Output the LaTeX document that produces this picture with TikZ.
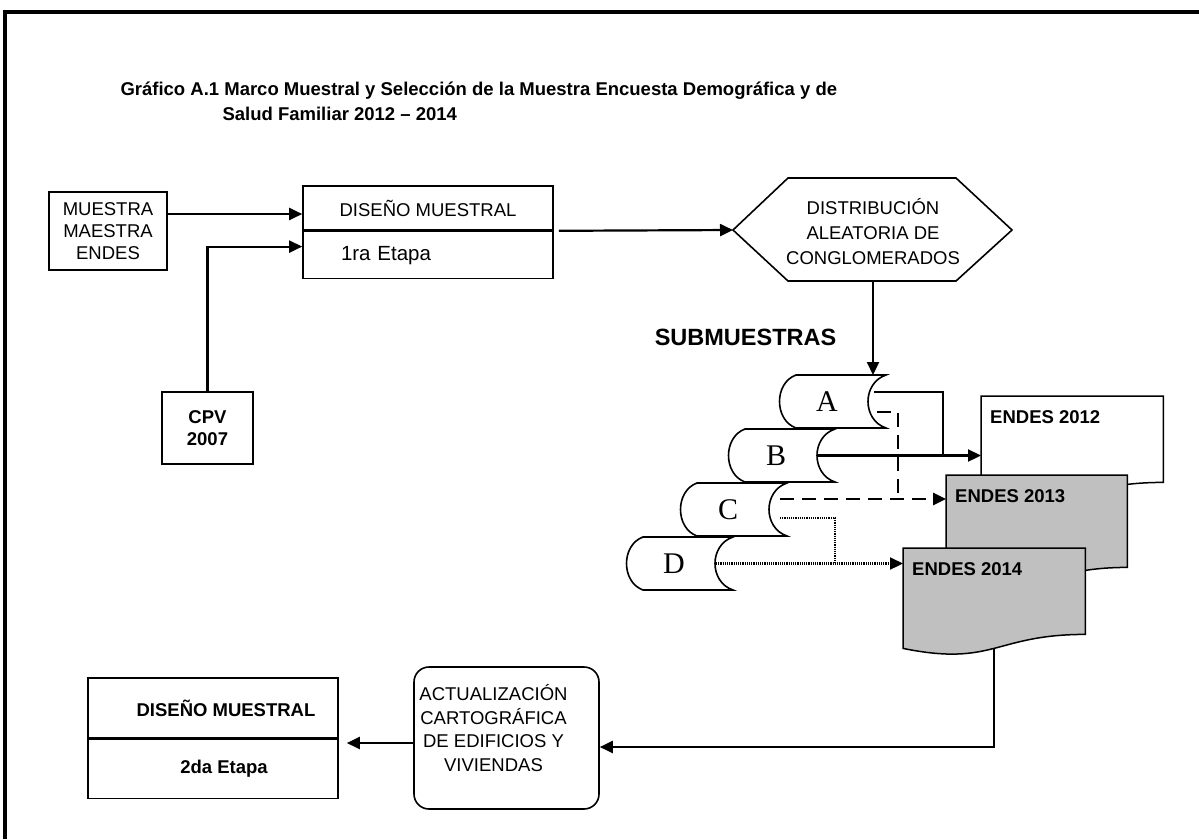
\documentclass[tikz,border=0pt]{standalone}
\usepackage{fontspec}
\setmainfont{Liberation Sans}
\newfontfamily\lettersfont{Liberation Serif}
\usetikzlibrary{arrows.meta,positioning,calc}
\definecolor{docgray}{RGB}{192,192,192}
\newcommand{\boxfont}{\fontsize{18.5}{22}\selectfont}
\newcommand{\titfont}{\fontsize{18.5}{23}\selectfont\bfseries}
\newcommand{\subfont}{\fontsize{23.5}{26}\selectfont\bfseries}
\newcommand{\scrfont}{\lettersfont\fontsize{30}{30}\selectfont}
\newcommand{\hexfont}{\fontsize{18.5}{25}\selectfont}
\newcommand{\actfont}{\fontsize{18.5}{23.7}\selectfont}
% scroll outline around the letter node #1
\newcommand{\scrollshape}[1]{%
  \draw[scrl] ($(#1)+(-31,-26.5)$) -- ($(#1)+(59,-26.5)$)
    .. controls +(-24,8) and +(-24,-8) .. ($(#1)+(59,26.5)$)
    -- ($(#1)+(-31,26.5)$)
    .. controls +(-22,-8) and +(-22,8) .. ($(#1)+(-31,-26.5)$) -- cycle;}

\begin{document}
\begin{tikzpicture}[x=1pt,y=-1pt,
  font=\boxfont,
  box/.style={draw,line width=1.6pt,inner sep=0pt,align=center},
  conn/.style={line width=2.2pt},
  arr/.style={conn,-{Triangle[length=13pt,width=12pt]}},
  dashc/.style={line width=2.8pt,dash pattern=on 14pt off 8pt},
  dotc/.style={line width=2.2pt,dash pattern=on 1.1pt off 1.1pt},
  tip/.style={-{Triangle[length=13pt,width=12pt]}},
  scrl/.style={line width=1.6pt},
  doc/.style={line width=1.5pt},
  docarea/.style={inner sep=0pt,anchor=north west}]
\useasboundingbox (0,0) rectangle (1199,839);
% frame
\draw[line width=4.5pt] (1199,12) -- (5,12) -- (5,839);
% title
\node[anchor=base west,font=\titfont] (tit1) at (117,95)
  {Gráfico A.1 Marco Muestral y Selección de la Muestra Encuesta Demográfica y de};
\node[anchor=base west,font=\titfont] (tit2) at (219,120) {Salud Familiar 2012 – 2014};
% first stage
\node[box,minimum width=118pt,minimum height=78pt] (mm) at (108,231) {MUESTRA\\MAESTRA\\ENDES};
\node[box,minimum width=250pt,minimum height=44pt] (dm1) at (428,208) {DISEÑO MUESTRAL};
\node[box,below=0pt of dm1,text width=174pt,inner xsep=38pt,align=left,minimum height=47pt,
  font=\fontsize{20.5}{24}\selectfont] (et1) {1ra Etapa};
\node[box,minimum width=91pt,minimum height=72pt,font=\boxfont\bfseries] (cpv) at (207.5,428) {CPV\\2007};
\coordinate (in1) at ($(mm.east)+(0,-17)$);
\draw[arr] (in1) -- (in1 -| dm1.west);
\coordinate (in2) at ($(et1.west)+(0,-8.5)$);
\draw[arr] (cpv.north) |- (in2);
% hexagon
\node[align=center,font=\hexfont] (dist) at (873,232) {DISTRIBUCIÓN\\ALEATORIA DE\\CONGLOMERADOS};
\draw[line width=1.6pt] ($(dist)+(-140,-2)$) -- ($(dist)+(-85,-54)$) -- ($(dist)+(83,-54)$)
  -- ($(dist)+(139,-2)$) -- ($(dist)+(83,49)$) -- ($(dist)+(-85,49)$) -- cycle;
\coordinate (distW) at ($(dist)+(-140,-2)$);
\coordinate (distS) at ($(dist)+(0,49)$);
\coordinate (out1) at ($(dm1.south east)+(5,0)$);
\draw[arr] (out1) -- (distW);
% submuestras
\node[font=\subfont] (subm) at (745.5,337) {SUBMUESTRAS};
\node[font=\scrfont] (sA) at (827,401.5) {A};
\node[font=\scrfont] (sB) at (776,455.5) {B};
\node[font=\scrfont] (sC) at (728,509.5) {C};
\node[font=\scrfont] (sD) at (674,563.5) {D};
\foreach \s in {sA,sB,sC,sD} {\scrollshape{\s}}
\coordinate (sAtop) at ($(sA)+(0,-26.5)$);
\draw[arr] (distS) -- (distS |- sAtop);
% ENDES documents
\node[docarea,minimum width=182pt,minimum height=86pt] (e12) at (981,396) {};
\node[docarea,minimum width=181pt,minimum height=92pt] (e13) at (946,475) {};
\node[docarea,minimum width=182pt,minimum height=86pt] (e14) at (903,548) {};
\foreach \n/\f/\d/\c in {e12/white/14/18.5,e13/docgray/15/20,e14/docgray/14/18.5}
  \draw[doc,fill=\f] (\n.north west) -- (\n.north east) -- (\n.south east)
    .. controls +(-91,0) and +(91,\c) .. ($(\n.south west)+(0,\d)$) -- cycle;
\foreach \n/\t in {e12/ENDES 2012,e13/ENDES 2013,e14/ENDES 2014}
  \node[anchor=base west,font=\boxfont\bfseries,inner sep=0pt] (\n-t) at ($(\n.north west)+(9,27)$) {\t};
% links to the surveys
\coordinate (a1) at ($(sA)+(47,-9.5)$);
\coordinate (a2) at ($(sA)+(50,10.5)$);
\coordinate (b1) at ($(sB)+(42,0)$);
\coordinate (c1) at ($(sC)+(52,-10.5)$);
\coordinate (c2) at ($(sC)+(52,8.5)$);
\coordinate (d1) at ($(sD)+(42,0)$);
\draw[conn] (a1) -| ($(b1)+(125,0)$);
\draw[arr] (b1) -- (b1 -| e12.west);
\draw[dashc] (a2) -| ($(c1)+(118,0)$);
\draw[dashc,tip] (c1) -- (c1 -| e13.west);
\draw[dotc] (c2) -| ($(d1)+(119,0)$);
\draw[dotc,tip] (d1) -- (d1 -| e14.west);
% second stage
\node[box,rounded corners=15pt,minimum width=185pt,minimum height=142pt] (act) at (506.5,738) {};
\node[align=center,font=\actfont] (act-t) at ($(act)+(-13,-10)$)
  {ACTUALIZACIÓN\\CARTOGRÁFICA\\DE EDIFICIOS Y\\VIVIENDAS};
\node[box,minimum width=250pt,minimum height=60pt,font=\boxfont\bfseries] (dm2) at (213,708)
  {\hspace*{26pt}DISEÑO MUESTRAL};
\node[box,below=0pt of dm2,minimum width=250pt,minimum height=59pt,font=\boxfont\bfseries] (et2)
  {\hspace*{22pt}2da Etapa};
\coordinate (actE) at ($(act.east)+(0,9)$);
\coordinate (actW) at ($(act.west)+(0,5)$);
\draw[arr] ($(e14.south)+(0,14)$) |- (actE);
\draw[arr,shorten >=8pt] (actW) -- (actW -| dm2.east);
\end{tikzpicture}
\end{document}
